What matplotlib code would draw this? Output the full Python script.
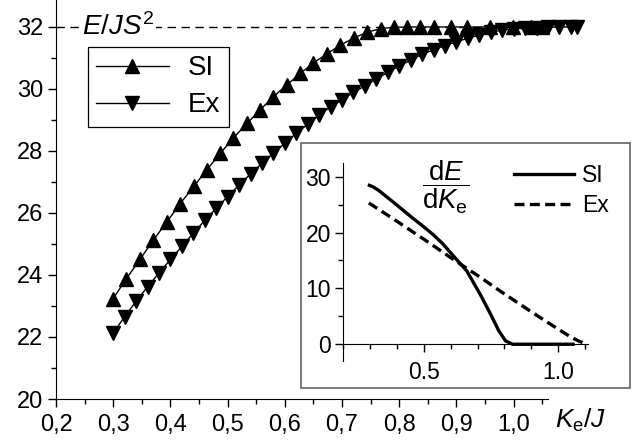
import numpy as np
import matplotlib.pyplot as plt
from matplotlib.patches import Rectangle
from matplotlib.ticker import MultipleLocator, FixedLocator

plt.rcParams['font.family'] = 'Liberation Sans'
plt.rcParams['mathtext.fontset'] = 'custom'
plt.rcParams['mathtext.rm'] = 'Liberation Sans'
plt.rcParams['mathtext.it'] = 'Liberation Sans:italic'

# main plot: energy vs Ke/J
si_k = [0.300, 0.323, 0.347, 0.370, 0.394, 0.417, 0.441, 0.464, 0.487, 0.510,
        0.534, 0.557, 0.580, 0.604, 0.627, 0.650, 0.674, 0.697, 0.721, 0.744,
        0.768, 0.791, 0.814, 0.837, 0.860, 0.890, 0.919, 0.959, 0.999, 1.030, 1.050]
si_e = [23.24, 23.88, 24.51, 25.12, 25.72, 26.30, 26.86, 27.40, 27.92, 28.42,
        28.89, 29.33, 29.75, 30.14, 30.50, 30.84, 31.14, 31.41, 31.65, 31.83,
        31.95, 31.99, 32.0, 32.0, 32.0, 32.0, 32.0, 32.0, 32.0, 32.0, 32.0]

ex_k = [0.30, 0.32, 0.34, 0.36, 0.38, 0.40, 0.42, 0.44, 0.46, 0.48,
        0.50, 0.52, 0.54, 0.56, 0.58, 0.60, 0.62, 0.64, 0.66, 0.68,
        0.70, 0.72, 0.74, 0.76, 0.78, 0.80, 0.82, 0.84, 0.86, 0.88,
        0.90, 0.92, 0.94, 0.96, 0.98, 1.00, 1.02, 1.04, 1.06, 1.08, 1.10, 1.11]
ex_e = [22.12, 22.66, 23.15, 23.62, 24.06, 24.50, 24.92, 25.35, 25.76, 26.15,
        26.53, 26.90, 27.26, 27.60, 27.93, 28.25, 28.57, 28.86, 29.16, 29.42,
        29.65, 29.89, 30.10, 30.32, 30.54, 30.74, 30.93, 31.12, 31.26, 31.40,
        31.52, 31.64, 31.74, 31.83, 31.90, 31.94, 31.96, 31.98, 31.99, 32.0, 32.0, 32.0]

xticks = [0.2, 0.3, 0.4, 0.5, 0.6, 0.7, 0.8, 0.9, 1.0]
xtick_labels = ['0,2', '0,3', '0,4', '0,5', '0,6', '0,7', '0,8', '0,9', '1,0']
yticks = [20, 22, 24, 26, 28, 30, 32]

# inset: derivative dE/dKe
dsi_k = [0.297, 0.310, 0.330, 0.400, 0.450, 0.500, 0.535, 0.570, 0.610, 0.660,
         0.710, 0.748, 0.779, 0.804, 0.830, 0.950, 1.055]
dsi_v = [28.45, 28.2, 27.6, 24.9, 22.9, 21.0, 19.6, 18.0, 15.8, 13.1,
         8.9, 5.4, 2.4, 0.6, 0.0, 0.0, 0.0]
dex_k = [0.295, 0.40, 0.50, 0.60, 0.70, 0.80, 0.90, 1.00, 1.05, 1.08, 1.105]
dex_v = [25.3, 22.0, 18.8, 15.5, 12.3, 9.0, 5.8, 2.7, 1.2, 0.5, 0.0]

fig = plt.figure(figsize=(6.44, 4.48), dpi=100)
ax = fig.add_axes([56/644, 1 - 399/448, 492/644, 399/448])

ax.axhline(32, color='k', lw=1, ls=(0, (6, 4)), zorder=1)
ax.plot(si_k, si_e, 'k-', marker='^', ms=9.5, lw=1, clip_on=False, zorder=3, label='SI')
ax.plot(ex_k, ex_e, 'k-', marker='v', ms=9.5, lw=1, clip_on=False, zorder=3, label='Ex')
ax.text(0.245, 31.75, r'$E/JS^2$', fontsize=20, va='baseline', ha='left',
        bbox=dict(facecolor='white', edgecolor='none', pad=1.5), zorder=2)

ax.set_xlim(0.2, 1.06)
ax.set_ylim(20, 32.87)
for s in ['top', 'right']:
    ax.spines[s].set_visible(False)
ax.xaxis.set_major_locator(FixedLocator(xticks))
ax.set_xticklabels(xtick_labels)
ax.xaxis.set_minor_locator(MultipleLocator(0.05))
ax.yaxis.set_major_locator(FixedLocator(yticks))
ax.yaxis.set_minor_locator(MultipleLocator(1))
ax.tick_params(which='both', direction='out', width=1, labelsize=17)
ax.tick_params(which='major', length=6)
ax.tick_params(which='minor', length=3.5)
ax.tick_params(axis='x', pad=5)
ax.tick_params(axis='y', pad=3)
ax.text(1.015, -0.072, r'$K_\mathrm{e}/J$', transform=ax.transAxes, fontsize=19,
        va='baseline', ha='left')

leg = ax.legend(loc='upper left', bbox_to_anchor=(88/644, 1 - 47/448),
                bbox_transform=fig.transFigure, fontsize=20, fancybox=False,
                edgecolor='k', framealpha=1, handlelength=2.6, borderaxespad=0,
                labelspacing=0.4, handletextpad=0.7, borderpad=0.3)
leg.get_frame().set_linewidth(0.9)

# inset frame
rect = Rectangle((301/644, 1 - 388/448), 329/644, 245/448, transform=fig.transFigure,
                 facecolor='white', edgecolor='#707070', lw=1.3, zorder=1)
fig.add_artist(rect)

axin = fig.add_axes([343.3/644, 1 - 361/448, 245/644, 198.3/448], zorder=2)
axin.patch.set_alpha(0)
axin.plot(dsi_k, dsi_v, 'k-', lw=2.4, label='SI')
axin.plot(dex_k, dex_v, 'k', ls=(0, (3, 1.6)), lw=2.4, label='Ex')
axin.set_xlim(0.2, 1.112)
axin.set_ylim(-3, 32.5)
for s in ['top', 'right']:
    axin.spines[s].set_visible(False)
axin.spines['bottom'].set_position(('data', 0))
axin.xaxis.set_major_locator(FixedLocator([0.5, 1.0]))
axin.set_xticklabels(['0.5', '1.0'])
axin.xaxis.set_minor_locator(MultipleLocator(0.1))
axin.yaxis.set_major_locator(FixedLocator([0, 10, 20, 30]))
axin.yaxis.set_minor_locator(MultipleLocator(5))
axin.tick_params(which='both', direction='out', width=1, labelsize=16.5)
axin.tick_params(which='major', length=6)
axin.tick_params(which='minor', length=3.5)
axin.tick_params(axis='x', pad=6)
axin.tick_params(axis='y', pad=3)
axin.text(0.58, 28.0, r'$\dfrac{\mathrm{d}E}{\mathrm{d}K_\mathrm{e}}$', fontsize=20,
          ha='center', va='center')
axin.legend(loc='upper left', bbox_to_anchor=(505/644, 1 - 155/448),
            bbox_transform=fig.transFigure, frameon=False, fontsize=16.5,
            handlelength=2.6, handletextpad=0.35, borderaxespad=0, labelspacing=0.3)

fig.savefig('out.png', dpi=100)
